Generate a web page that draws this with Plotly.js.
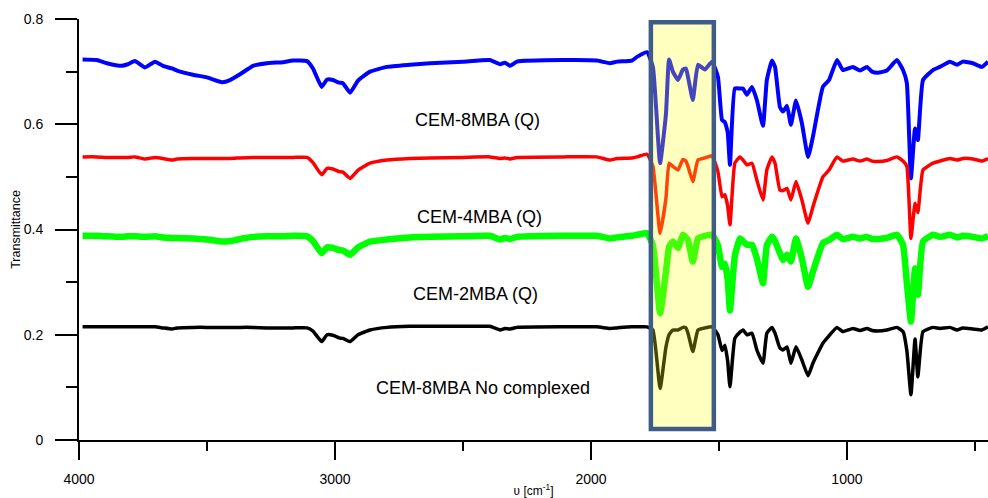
<!DOCTYPE html>
<html>
<head>
<meta charset="utf-8">
<script src="https://cdn.plot.ly/plotly-3.0.1.min.js"></script>
<style>html,body{margin:0;padding:0;background:#fff;}#chart{width:988px;height:498px;}</style>
</head>
<body>
<div id="chart"></div>
<script>
// Wavenumber (cm-1), shared by all four spectra
const wavenumber = [3986,3931,3891,3833,3809,3781,3742,3703,3672,3637,3617,3555,3500,3441,3410,3371,3320,3266,3203,3164,3109,3086,3052,3031,3008,2984,2969,2941,2910,2863,2797,2707,2629,2500,2395,2355,2336,2316,2289,2109,1977,1926,1898,1840,1820,1781,1758,1730,1707,1695,1680,1660,1641,1629,1621,1602,1582,1555,1527,1504,1488,1477,1466,1457,1438,1418,1406,1391,1371,1352,1328,1313,1293,1281,1262,1250,1234,1219,1199,1176,1152,1133,1094,1070,1039,1016,977,949,922,902,879,844,805,781,766,750,734,723,703,664,637,598,570,547,508,473,449];

// CEM-8MBA (Q) - blue
const cem8Q = [0.723,0.722,0.716,0.711,0.714,0.720,0.708,0.719,0.711,0.706,0.702,0.694,0.689,0.680,0.684,0.695,0.711,0.716,0.718,0.721,0.720,0.706,0.671,0.685,0.684,0.679,0.678,0.660,0.683,0.700,0.709,0.713,0.716,0.719,0.722,0.714,0.717,0.711,0.719,0.722,0.721,0.716,0.719,0.721,0.728,0.737,0.709,0.526,0.620,0.723,0.700,0.684,0.704,0.706,0.690,0.646,0.713,0.704,0.719,0.690,0.608,0.604,0.585,0.523,0.668,0.668,0.668,0.656,0.671,0.646,0.597,0.684,0.721,0.709,0.633,0.624,0.635,0.599,0.645,0.602,0.538,0.576,0.671,0.684,0.722,0.703,0.709,0.702,0.709,0.700,0.698,0.702,0.722,0.703,0.678,0.497,0.592,0.570,0.684,0.703,0.709,0.719,0.713,0.719,0.716,0.709,0.719];

// CEM-4MBA (Q) - red
const cem4Q = [0.538,0.538,0.537,0.537,0.537,0.538,0.534,0.537,0.535,0.532,0.534,0.535,0.535,0.535,0.535,0.536,0.537,0.537,0.537,0.537,0.537,0.527,0.504,0.516,0.515,0.510,0.509,0.497,0.513,0.526,0.532,0.535,0.536,0.537,0.538,0.535,0.536,0.534,0.537,0.538,0.538,0.532,0.535,0.536,0.538,0.543,0.520,0.393,0.460,0.526,0.520,0.513,0.533,0.530,0.520,0.491,0.532,0.536,0.540,0.510,0.462,0.466,0.445,0.409,0.526,0.538,0.532,0.523,0.526,0.494,0.456,0.513,0.538,0.526,0.475,0.474,0.478,0.456,0.491,0.456,0.412,0.443,0.500,0.513,0.538,0.530,0.534,0.530,0.534,0.530,0.529,0.531,0.538,0.530,0.520,0.383,0.450,0.432,0.513,0.526,0.530,0.535,0.532,0.535,0.534,0.530,0.535];

// CEM-2MBA (Q) - green
const cem2Q = [0.388,0.388,0.387,0.386,0.387,0.387,0.386,0.387,0.385,0.384,0.384,0.383,0.381,0.377,0.378,0.382,0.386,0.387,0.387,0.388,0.387,0.378,0.355,0.366,0.365,0.361,0.360,0.352,0.366,0.377,0.381,0.385,0.386,0.387,0.388,0.381,0.384,0.382,0.386,0.388,0.388,0.383,0.385,0.388,0.390,0.393,0.370,0.241,0.320,0.367,0.377,0.365,0.390,0.385,0.380,0.339,0.383,0.388,0.390,0.370,0.329,0.335,0.305,0.246,0.350,0.383,0.378,0.371,0.371,0.345,0.298,0.370,0.386,0.378,0.355,0.342,0.352,0.339,0.383,0.345,0.291,0.320,0.374,0.380,0.390,0.382,0.386,0.383,0.386,0.382,0.382,0.384,0.390,0.371,0.298,0.225,0.326,0.276,0.377,0.390,0.386,0.390,0.385,0.388,0.386,0.383,0.388];

// CEM-8MBA No complexed - black
const cem8NoComplex = [0.215,0.215,0.215,0.215,0.215,0.215,0.215,0.215,0.213,0.211,0.213,0.214,0.214,0.214,0.214,0.214,0.214,0.213,0.213,0.213,0.213,0.207,0.187,0.200,0.199,0.194,0.193,0.187,0.200,0.209,0.214,0.216,0.216,0.216,0.216,0.209,0.212,0.211,0.214,0.215,0.215,0.212,0.213,0.215,0.215,0.215,0.209,0.098,0.177,0.200,0.209,0.209,0.214,0.213,0.203,0.168,0.209,0.213,0.215,0.200,0.170,0.180,0.150,0.101,0.193,0.205,0.209,0.200,0.203,0.171,0.146,0.203,0.214,0.203,0.175,0.171,0.177,0.146,0.177,0.152,0.122,0.146,0.184,0.198,0.214,0.206,0.212,0.208,0.212,0.208,0.207,0.209,0.214,0.206,0.170,0.086,0.192,0.120,0.206,0.214,0.212,0.214,0.209,0.213,0.211,0.209,0.215];

const seriesNames = ["CEM-8MBA (Q)","CEM-4MBA (Q)","CEM-2MBA (Q)","CEM-8MBA No complexed"];
const seriesColors = ["#0000ff","#ff0000","#00ff00","#000000"];
const seriesWidths = [4,3.5,6.5,3.5];
const seriesValues = [cem8Q, cem4Q, cem2Q, cem8NoComplex];

// Label anchor points (cm-1, transmittance)
const labelX = [2445, 2435, 2451, 2420];
const labelY = [0.608, 0.424, 0.277, 0.099];

// Highlighted band (cm-1, transmittance)
const bandX = [1766, 1520];
const bandY = [0.021, 0.794];

const FONT = "Liberation Sans, Arial, Helvetica, sans-serif";

const traces = seriesValues.map((vals, i) => ({
  type: "scatter", mode: "lines",
  x: wavenumber, y: vals, name: seriesNames[i],
  line: {color: seriesColors[i], width: seriesWidths[i], shape: "spline", smoothing: 0.4},
  hoverinfo: "skip"
}));

const annotations = seriesNames.map((t, i) => ({
  x: labelX[i], y: labelY[i], xref: "x", yref: "y", text: t, showarrow: false,
  font: {family: FONT, size: 18, color: "#000"}, xanchor: "center", yanchor: "middle"
}));

const layout = {
  width: 988, height: 498,
  margin: {l: 79, r: 0, t: 19, b: 58},
  paper_bgcolor: "#fff", plot_bgcolor: "#fff",
  showlegend: false,
  font: {family: FONT, color: "#000"},
  xaxis: {
    range: [4000, 449], dtick: 1000, tick0: 0,
    showgrid: false, zeroline: false,
    showline: true, linecolor: "#000", linewidth: 2,
    ticks: "outside", ticklen: 18, tickwidth: 2, tickcolor: "#000",
    minor: {dtick: 500, ticks: "outside", ticklen: 9, tickwidth: 2, tickcolor: "#000"},
    tickfont: {family: FONT, size: 14, color: "#000"},
    ticklabelstandoff: 7,
    title: {text: "ʋ [cm<sup>-1</sup>]", font: {family: FONT, size: 12, color: "#000"}, standoff: 1},
    automargin: false
  },
  yaxis: {
    range: [0, 0.8], dtick: 0.2, tick0: 0,
    showgrid: false, zeroline: false,
    showline: true, linecolor: "#000", linewidth: 2,
    ticks: "outside", ticklen: 22, tickwidth: 2, tickcolor: "#000",
    minor: {dtick: 0.1, ticks: "outside", ticklen: 11, tickwidth: 2, tickcolor: "#000"},
    tickfont: {family: FONT, size: 14, color: "#000"},
    ticklabelstandoff: 9,
    title: {text: "Transmittance", font: {family: FONT, size: 12.5, color: "#000"}, standoff: 0},
    automargin: false
  },
  shapes: [{
    type: "rect", xref: "x", yref: "y", layer: "above",
    x0: bandX[0], x1: bandX[1], y0: bandY[0], y1: bandY[1],
    fillcolor: "rgba(255,255,22,0.27)",
    line: {color: "rgb(62,92,135)", width: 4.5}
  }],
  annotations: annotations
};

Plotly.newPlot("chart", traces, layout, {displayModeBar: false, staticPlot: true});
</script>
</body>
</html>
